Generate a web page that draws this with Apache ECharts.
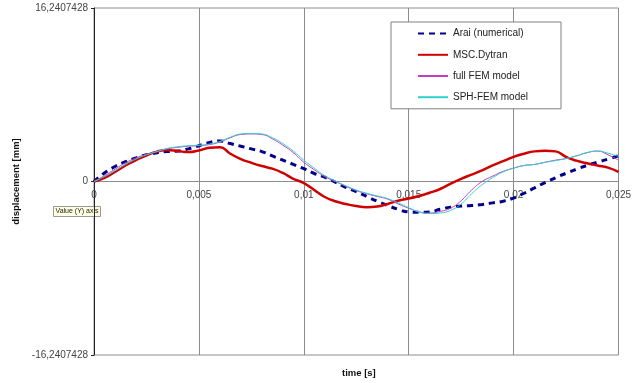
<!DOCTYPE html>
<html>
<head>
<meta charset="utf-8">
<script src="https://cdn.jsdelivr.net/npm/echarts@6/dist/echarts.min.js"></script>
<style>
    html, body {margin: 0; padding: 0; background: #fff;}
    #chart {width: 634px; height: 383px;}
</style>
</head>
<body>
<div id="chart"></div>
<script>
// time [s], step 0,0005
var time = [];
for (var i = 0; i <= 50; i++) {
    time.push(+(i * 0.0005).toFixed(4));
}

var araiNumerical = [0, 0.8, 1.4, 1.85, 2.2, 2.5, 2.7, 2.8, 2.85, 3.05,
    3.35, 3.65, 3.8, 3.55, 3.3, 3.05, 2.8, 2.4, 2.0, 1.6,
    1.2, 0.75, 0.4, -0.05, -0.55, -0.95, -1.4, -1.85, -2.25, -2.6,
    -2.85, -2.88, -2.85, -2.6, -2.4, -2.3, -2.25, -2.15, -2.0, -1.85,
    -1.55, -1.1, -0.6, -0.1, 0.35, 0.77, 1.15, 1.5, 1.8, 2.1, 2.4];

var mscDytran = [0, 0.35, 0.9, 1.5, 2.0, 2.45, 2.8, 2.95, 2.85, 2.75,
    2.9, 3.15, 3.2, 2.6, 2.1, 1.75, 1.45, 1.2, 0.8, 0.25,
    -0.15, -0.8, -1.45, -1.85, -2.1, -2.3, -2.4, -2.35, -2.1, -1.8,
    -1.6, -1.35, -1.05, -0.7, -0.2, 0.25, 0.65, 1.05, 1.5, 1.9,
    2.3, 2.6, 2.82, 2.88, 2.82, 2.3, 1.95, 1.7, 1.5, 1.3, 0.9];

var fullFem = [0, 0.55, 1.15, 1.75, 2.2, 2.55, 2.8, 3.05, 3.2, 3.3,
    3.35, 3.45, 3.7, 4.1, 4.4, 4.45, 4.4, 4.0, 3.4, 2.7,
    1.8, 1.1, 0.45, 0.0, -0.45, -0.85, -1.15, -1.4, -1.65, -2.1,
    -2.5, -2.85, -2.95, -2.8, -2.5, -1.8, -0.8, 0.0, 0.5, 0.95,
    1.25, 1.5, 1.6, 1.8, 2.0, 2.15, 2.4, 2.7, 2.85, 2.5, 2.0];

var sphFem = [0, 0.45, 1.0, 1.6, 2.1, 2.5, 2.8, 3.1, 3.25, 3.35,
    3.4, 3.5, 3.75, 4.15, 4.45, 4.5, 4.45, 4.1, 3.55, 2.85,
    2.0, 1.25, 0.55, 0.05, -0.4, -0.8, -1.1, -1.35, -1.6, -2.0,
    -2.45, -2.85, -3.0, -2.95, -2.7, -2.1, -1.15, -0.3, 0.35, 0.9,
    1.25, 1.5, 1.6, 1.8, 1.95, 2.15, 2.4, 2.7, 2.85, 2.65, 2.35];

var yLimit = 16.2407428;
var xStep = 0.005;

function pairs(values) {
    var out = [];
    for (var n = 0; n < values.length; n++) {
        out.push([time[n], values[n]]);
    }
    return out;
}

function comma(v) {
    return String(v).replace('.', ',');
}

var font = 'Liberation Sans, Arial, sans-serif';
var myChart = echarts.init(document.getElementById('chart'));

var option = {
    animation: false,
    textStyle: {fontFamily: font},
    grid: {
        left: 94,
        right: 11,
        top: 8,
        bottom: 28,
        show: true,
        borderColor: '#8c8c8c',
        borderWidth: 1
    },
    legend: {
        orient: 'vertical',
        left: 391,
        top: 22,
        z: 6,
        padding: [6, 33, 6, 26],
        itemWidth: 30,
        itemHeight: 14,
        itemGap: 10,
        backgroundColor: '#fff',
        borderColor: '#808080',
        borderWidth: 1,
        itemStyle: {opacity: 0},
        textStyle: {fontSize: 10, color: '#222', fontFamily: font},
        data: ['Arai (numerical)', 'MSC.Dytran', 'full FEM model', 'SPH-FEM model']
    },
    xAxis: {
        type: 'value',
        min: 0,
        max: 0.025,
        interval: xStep,
        // x axis crosses the y axis at 0 (middle of the plot)
        offset: -173.5,
        axisLine: {onZero: false, lineStyle: {color: '#8c8c8c', width: 1}},
        axisTick: {show: false},
        axisLabel: {
            margin: 9,
            fontSize: 10,
            color: '#444',
            formatter: function (v) {
                return comma(+v.toFixed(3));
            }
        },
        splitLine: {show: true, lineStyle: {color: '#8c8c8c', width: 1}}
    },
    yAxis: {
        type: 'value',
        min: -yLimit,
        max: yLimit,
        interval: yLimit,
        name: 'displacement [mm]',
        nameLocation: 'middle',
        nameGap: 71,
        nameTextStyle: {fontSize: 9.5, fontWeight: 'bold', color: '#111', fontFamily: font},
        axisLine: {show: true, lineStyle: {color: '#222', width: 1}},
        axisTick: {show: true, length: 3, inside: false, lineStyle: {color: '#222'}},
        axisLabel: {
            margin: 6,
            fontSize: 10,
            color: '#444',
            formatter: function (v) {
                return comma(+v.toFixed(7));
            }
        },
        splitLine: {show: false}
    },
    graphic: [
        {
            type: 'text',
            left: 342,
            top: 368,
            style: {text: 'time [s]', font: 'bold 9.5px ' + font, fill: '#111'}
        },
        {
            type: 'group',
            left: 53,
            top: 206,
            z: 10,
            children: [
                {
                    type: 'rect',
                    shape: {x: 0, y: 0, width: 47, height: 10},
                    style: {fill: '#ffffe1', stroke: '#999', lineWidth: 1}
                },
                {
                    type: 'text',
                    x: 2,
                    y: 1.5,
                    style: {text: 'Value (Y) axis', font: '7px ' + font, fill: '#222'}
                }
            ]
        }
    ],
    series: [
        {
            name: 'Arai (numerical)',
            type: 'line',
            smooth: true,
            symbol: 'none',
            lineStyle: {color: '#00008b', width: 3, type: [6, 5]},
            itemStyle: {color: '#00008b'},
            data: pairs(araiNumerical)
        },
        {
            name: 'MSC.Dytran',
            type: 'line',
            smooth: true,
            symbol: 'none',
            lineStyle: {color: '#d00000', width: 2.5},
            itemStyle: {color: '#d00000'},
            data: pairs(mscDytran)
        },
        {
            name: 'full FEM model',
            type: 'line',
            smooth: true,
            symbol: 'none',
            lineStyle: {color: '#c040c0', width: 1},
            itemStyle: {color: '#c040c0'},
            data: pairs(fullFem)
        },
        {
            name: 'SPH-FEM model',
            type: 'line',
            smooth: true,
            symbol: 'none',
            lineStyle: {color: '#30d0d0', width: 1},
            itemStyle: {color: '#30d0d0'},
            data: pairs(sphFem)
        }
    ]
};

myChart.setOption(option);
</script>
</body>
</html>
